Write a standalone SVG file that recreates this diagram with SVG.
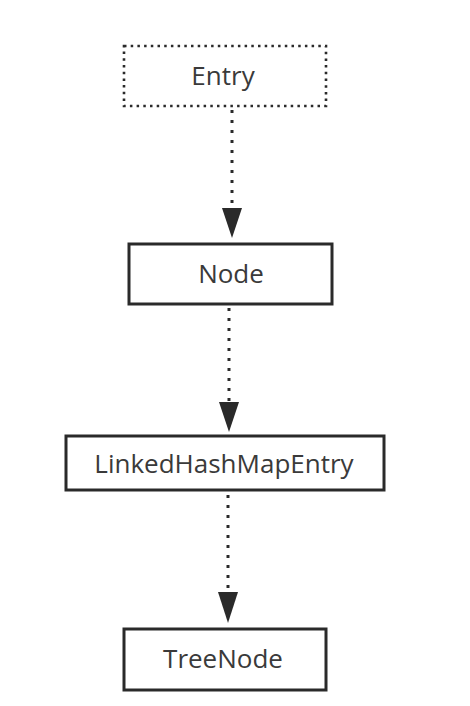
<svg xmlns="http://www.w3.org/2000/svg" width="470" height="706" viewBox="0 0 470 706">
<style>
.box{fill:#fff;stroke:#2a2a2a;stroke-width:3}
.dotted{stroke-dasharray:2.5 4.2;stroke-width:2.6}
.lbl{font-family:"Open Sans","Liberation Sans",sans-serif;font-size:26px;fill:#3a3a3a;text-anchor:middle}
.conn{stroke:#2a2a2a;stroke-width:3;stroke-dasharray:3 7;fill:none}
.head{fill:#2a2a2a}
</style>
<rect width="470" height="706" fill="#fff"/>
<g id="connectors">
<line class="conn" x1="232" y1="110" x2="232" y2="210"/>
<polygon class="head" points="222,208 242,208 232,238"/>
<line class="conn" x1="229" y1="308" x2="229" y2="404"/>
<polygon class="head" points="219,402 239,402 229,432"/>
<line class="conn" x1="228" y1="495" x2="228" y2="594"/>
<polygon class="head" points="218,592 238,592 228,623"/>
</g>
<g id="entry">
<rect class="box dotted" x="124" y="46" width="202" height="60"/>
<text class="lbl" x="223" y="85">Entry</text>
</g>
<g id="node">
<rect class="box" x="129" y="244" width="203" height="60"/>
<text class="lbl" x="231" y="283">Node</text>
</g>
<g id="linkedhashmapentry">
<rect class="box" x="66" y="436" width="318" height="54"/>
<text class="lbl" x="224" y="473">LinkedHashMapEntry</text>
</g>
<g id="treenode">
<rect class="box" x="124" y="629" width="202" height="61"/>
<text class="lbl" x="223" y="668">TreeNode</text>
</g>
</svg>
